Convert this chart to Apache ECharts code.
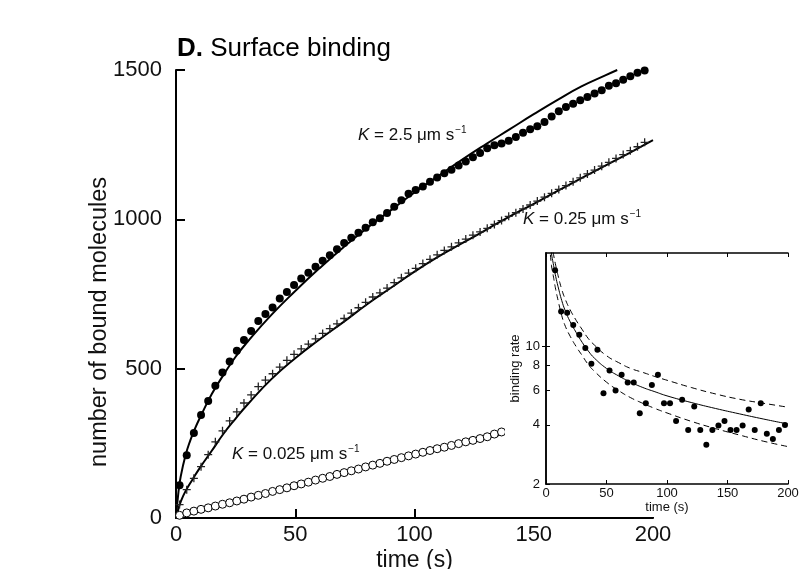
<!DOCTYPE html>
<html>
<head>
<meta charset="utf-8">
<script src="https://cdn.jsdelivr.net/npm/echarts@6/dist/echarts.min.js"></script>
<style>
  html, body { margin: 0; padding: 0; background: #fff; }
  #main { width: 803px; height: 569px; }
</style>
</head>
<body>
<div id="main"></div>
<script>
// sample times of the simulated data (s)
const tMain = [1.5, 4.5, 7.5, 10.5, 13.5, 16.5, 19.5, 22.5, 25.5, 28.5, 31.5, 34.5, 37.5, 40.5, 43.5, 46.5,
  49.5, 52.5, 55.5, 58.5, 61.5, 64.5, 67.5, 70.5, 73.5, 76.5, 79.5, 82.5, 85.5, 88.5, 91.5, 94.5, 97.5,
  100.5, 103.5, 106.5, 109.5, 112.5, 115.5, 118.5, 121.5, 124.5, 127.5, 130.5, 133.5, 136.5, 139.5, 142.5,
  145.5, 148.5, 151.5, 154.5, 157.5, 160.5, 163.5, 166.5, 169.5, 172.5, 175.5, 178.5, 181.5, 184.5, 187.5,
  190.5, 193.5, 196.5];

// K = 2.5 (filled dots)
const boundHigh = [110, 210, 285, 345, 392, 443, 487, 524, 560, 596, 626, 660, 683, 705, 735, 757, 780, 802,
  821, 841, 861, 880, 900, 921, 938, 955, 972, 990, 1004, 1021, 1042, 1064, 1086, 1098, 1110, 1126, 1140,
  1154, 1166, 1180, 1194, 1208, 1222, 1238, 1248, 1254, 1263, 1276, 1290, 1302, 1312, 1326, 1344, 1362,
  1376, 1387, 1399, 1410, 1421, 1432, 1447, 1456, 1467, 1479, 1491, 1498];
// K = 0.25 (crosses)
const boundMid = [45, 95, 133, 172, 212, 255, 292, 325, 355, 385, 412, 440, 462, 483, 505, 528, 548, 566,
  582, 600, 618, 634, 650, 668, 686, 704, 722, 740, 754, 770, 788, 804, 820, 836, 852, 866, 881, 896, 908,
  921, 934, 947, 958, 970, 983, 996, 1010, 1022, 1035, 1048, 1061, 1074, 1087, 1100, 1113, 1126, 1139,
  1152, 1165, 1178, 1191, 1204, 1217, 1230, 1243, 1258];
// K = 0.025 (open circles, visible part only)
const boundLow = [9, 17, 23, 29, 34, 40, 46, 51, 57, 63, 70, 76, 82, 89, 95, 101, 108, 114, 120, 127,
  133, 139, 146, 152, 158, 164, 171, 177, 183, 190, 196, 202, 208, 214, 220, 226, 232, 237, 243, 249,
  255, 260, 266, 272, 281, 288];

// fitted curves
const fitHighT = [0, 1, 2, 4, 6, 8, 10, 15, 20, 25, 30, 40, 50, 60, 70, 80, 90, 100, 110, 120, 130, 140, 150, 160, 170, 180, 185];
const fitHighY = [0, 85, 140, 210, 260, 300, 335, 415, 480, 540, 590, 680, 760, 835, 905, 970, 1030, 1090, 1145, 1200, 1252, 1302, 1352, 1400, 1445, 1482, 1500];
const fitMidT = [0, 1, 2, 4, 7, 10, 15, 20, 25, 30, 40, 50, 60, 70, 80, 90, 100, 110, 120, 130, 140, 150, 160, 170, 180, 190, 200];
const fitMidY = [0, 30, 55, 90, 130, 168, 225, 283, 333, 380, 465, 535, 597, 655, 715, 770, 825, 875, 920, 965, 1010, 1052, 1095, 1138, 1180, 1222, 1265];
const fitLowT = [0, 2, 5, 10, 20, 40, 60, 80, 100, 120, 138];
const fitLowY = [0, 8, 14, 24, 42, 85, 127, 169, 210, 248, 283];

// inset: binding rate
const rateT = [7.5, 12.5, 17.5, 22.5, 27.5, 32.5, 37.5, 42.5, 47.5, 52.5, 57.5, 62.5, 67.5, 72.5, 77.5, 82.5,
  87.5, 92.5, 97.5, 102.5, 107.5, 112.5, 117.5, 122.5, 127.5, 132.5, 137.5, 142.5, 147.5, 152.5, 157.5,
  162.5, 167.5, 172.5, 177.5, 182.5, 187.5, 192.5, 197.5];
const rateVals = [24.5, 15.1, 14.9, 12.9, 11.5, 9.85, 8.2, 9.65, 5.8, 7.57, 5.98, 7.2, 6.58, 6.58, 4.59, 5.16,
  6.38, 7.2, 5.16, 5.16, 4.18, 5.37, 3.77, 4.96, 3.77, 3.17, 3.77, 3.97, 4.18, 3.77, 3.77, 3.97, 4.79, 3.77,
  5.16, 3.6, 3.39, 3.77, 3.99];
const rateFitT = [3, 4.5, 6, 8, 10, 13, 16, 20, 25, 30, 35, 40, 50, 60, 70, 80, 90, 100, 120, 140, 160, 180, 200];
const rateFit = [38, 30, 26.5, 22.8, 20.2, 17.2, 15.2, 13.4, 11.8, 10.5, 9.5, 8.75, 7.75, 7.1, 6.6, 6.2, 5.9, 5.62, 5.2, 4.85, 4.55, 4.28, 4.04];
const rateUpper = [43, 34, 30, 26, 23, 19.6, 17.4, 15.4, 13.6, 12.2, 11.0, 10.2, 9.0, 8.3, 7.75, 7.4, 7.05, 6.75, 6.2, 5.75, 5.4, 5.15, 4.92];
const rateLower = [33, 26, 23, 19.6, 17.2, 14.4, 12.7, 11.3, 10.0, 9.0, 8.1, 7.5, 6.6, 5.98, 5.5, 5.15, 4.85, 4.6, 4.17, 3.83, 3.55, 3.3, 3.1];

const rateTicks = [2, 4, 6, 8, 10];

const FONT = '"Liberation Sans", Arial, Helvetica, sans-serif';

function pairs(xs, ys) {
  return ys.map((y, i) => [xs[i], y]);
}
const plain = v => String(v);

const plusPath = 'path://M4.2,0H5.8V4.2H10V5.8H5.8V10H4.2V5.8H0V4.2H4.2Z';

const myChart = echarts.init(document.getElementById('main'), null, {renderer: 'canvas'});

const axisBlack = {color: '#000', width: 2};
const kRich = {
  i: {fontStyle: 'italic', fontSize: 17, fontFamily: FONT, color: '#111'},
  s: {fontSize: 10, padding: [0, 0, 10, 1], fontFamily: FONT, color: '#111'}
};

myChart.setOption({
  animation: false,
  backgroundColor: '#fff',
  textStyle: {fontFamily: FONT},
  title: {
    text: '{b|D.} Surface binding',
    left: 172,
    top: 31,
    textStyle: {
      fontFamily: FONT, fontSize: 26, fontWeight: 'normal', color: '#000',
      rich: {b: {fontFamily: FONT, fontSize: 26, fontWeight: 'bold', color: '#000'}}
    }
  },
  grid: [
    {left: 176, right: 150, top: 70, bottom: 51, outerBoundsMode: 'none', containLabel: false},
    {left: 546, right: 15, top: 253, bottom: 85, outerBoundsMode: 'none', containLabel: false}
  ],
  xAxis: [
    {
      type: 'value', gridIndex: 0, min: 0, max: 200, interval: 50,
      axisLine: {lineStyle: axisBlack},
      axisTick: {inside: true, length: 9, lineStyle: axisBlack},
      axisLabel: {fontSize: 22, color: '#111', margin: 6, fontFamily: FONT, formatter: plain},
      splitLine: {show: false},
      name: 'time (s)', nameLocation: 'middle', nameGap: 31, nameMoveOverlap: false,
      nameTextStyle: {fontSize: 23, color: '#111', fontFamily: FONT}
    },
    {
      type: 'value', gridIndex: 1, min: 0, max: 200, interval: 50, z: 20,
      axisLine: {lineStyle: {color: '#000', width: 1.5}},
      axisTick: {inside: true, length: 4, lineStyle: {color: '#000', width: 1}},
      axisLabel: {fontSize: 13, color: '#111', margin: 3, fontFamily: FONT},
      splitLine: {show: false},
      name: 'time (s)', nameLocation: 'middle', nameGap: 17,
      nameTextStyle: {fontSize: 13, color: '#111', fontFamily: FONT}
    },
    {
      type: 'value', gridIndex: 1, min: 0, max: 200, interval: 50, z: 20, position: 'top',
      axisLine: {lineStyle: {color: '#000', width: 1.5}},
      axisTick: {inside: true, length: 4, lineStyle: {color: '#000', width: 1}},
      axisLabel: {show: false},
      splitLine: {show: false}
    }
  ],
  yAxis: [
    {
      type: 'value', gridIndex: 0, min: 0, max: 1500, interval: 500,
      axisLine: {lineStyle: axisBlack},
      axisTick: {inside: true, length: 9, lineStyle: axisBlack},
      axisLabel: {fontSize: 22, color: '#111', margin: 14, fontFamily: FONT, formatter: plain},
      splitLine: {show: false},
      name: 'number of bound molecules', nameLocation: 'middle', nameGap: 64, nameMoveOverlap: false,
      nameTextStyle: {fontSize: 23.5, color: '#111', fontFamily: FONT, padding: [0, 56, 0, 0]}
    },
    {
      type: 'log', gridIndex: 1, min: 2, max: 30, z: 20,
      axisLine: {lineStyle: {color: '#000', width: 1.5}},
      axisTick: {inside: true, length: 4, lineStyle: {color: '#000', width: 1}, customValues: rateTicks},
      axisLabel: {fontSize: 13, color: '#111', margin: 6, fontFamily: FONT, customValues: rateTicks},
      splitLine: {show: false},
      minorTick: {show: false},
      name: 'binding rate', nameLocation: 'middle', nameGap: 22,
      nameTextStyle: {fontSize: 13, color: '#111', fontFamily: FONT}
    },
    {
      type: 'log', gridIndex: 1, min: 2, max: 30, z: 20, position: 'right',
      axisLine: {lineStyle: {color: '#000', width: 1.5}},
      axisTick: {inside: true, length: 4, lineStyle: {color: '#000', width: 1}, customValues: [10]},
      axisLabel: {show: false},
      splitLine: {show: false}
    }
  ],
  graphic: [
    // white box of the inset hides the main plot behind it
    {type: 'rect', shape: {x: 505, y: 230, width: 298, height: 287}, style: {fill: '#fff'}, z: 10, silent: true},
    {
      type: 'text', x: 358, y: 135, z: 30,
      style: {text: '{i|K} = 2.5 μm s{s|−1}', fill: '#111', fontSize: 17, fontFamily: FONT, verticalAlign: 'middle', rich: kRich}
    },
    {
      type: 'text', x: 523, y: 219, z: 30,
      style: {text: '{i|K} = 0.25 μm s{s|−1}', fill: '#111', fontSize: 17, fontFamily: FONT, verticalAlign: 'middle', rich: kRich}
    },
    {
      type: 'text', x: 232, y: 454, z: 30,
      style: {text: '{i|K} = 0.025 μm s{s|−1}', fill: '#111', fontSize: 17, fontFamily: FONT, verticalAlign: 'middle', rich: kRich}
    }
  ],
  series: [
    {
      name: 'fit 2.5', type: 'line', xAxisIndex: 0, yAxisIndex: 0, data: pairs(fitHighT, fitHighY),
      showSymbol: false, smooth: true, lineStyle: {color: '#000', width: 2}, z: 2
    },
    {
      name: 'fit 0.25', type: 'line', xAxisIndex: 0, yAxisIndex: 0, data: pairs(fitMidT, fitMidY),
      showSymbol: false, smooth: true, lineStyle: {color: '#000', width: 2}, z: 2
    },
    {
      name: 'fit 0.025', type: 'line', xAxisIndex: 0, yAxisIndex: 0, data: pairs(fitLowT, fitLowY),
      showSymbol: false, smooth: true, lineStyle: {color: '#000', width: 2}, z: 2
    },
    {
      name: 'K 2.5', type: 'scatter', xAxisIndex: 0, yAxisIndex: 0, data: pairs(tMain, boundHigh),
      symbol: 'circle', symbolSize: 8, itemStyle: {color: '#000', opacity: 1}, z: 3
    },
    {
      name: 'K 0.25', type: 'scatter', xAxisIndex: 0, yAxisIndex: 0, data: pairs(tMain, boundMid),
      symbol: plusPath, symbolSize: 8, itemStyle: {color: '#222', opacity: 1}, z: 3
    },
    {
      name: 'K 0.025', type: 'scatter', xAxisIndex: 0, yAxisIndex: 0, data: pairs(tMain, boundLow),
      symbol: 'circle', symbolSize: 8, itemStyle: {color: '#fff', borderColor: '#000', borderWidth: 1, opacity: 1}, z: 3
    },
    {
      name: 'rate fit', type: 'line', xAxisIndex: 1, yAxisIndex: 1, data: pairs(rateFitT, rateFit),
      showSymbol: false, smooth: true, lineStyle: {color: '#000', width: 1}, z: 20
    },
    {
      name: 'rate upper', type: 'line', xAxisIndex: 1, yAxisIndex: 1, data: pairs(rateFitT, rateUpper),
      showSymbol: false, smooth: true, lineStyle: {color: '#000', width: 1, type: [6, 4]}, z: 20
    },
    {
      name: 'rate lower', type: 'line', xAxisIndex: 1, yAxisIndex: 1, data: pairs(rateFitT, rateLower),
      showSymbol: false, smooth: true, lineStyle: {color: '#000', width: 1, type: [6, 4]}, z: 20
    },
    {
      name: 'rate', type: 'scatter', xAxisIndex: 1, yAxisIndex: 1, data: pairs(rateT, rateVals),
      symbol: 'circle', symbolSize: 6, itemStyle: {color: '#000', opacity: 1}, z: 21
    }
  ]
});
</script>
</body>
</html>
